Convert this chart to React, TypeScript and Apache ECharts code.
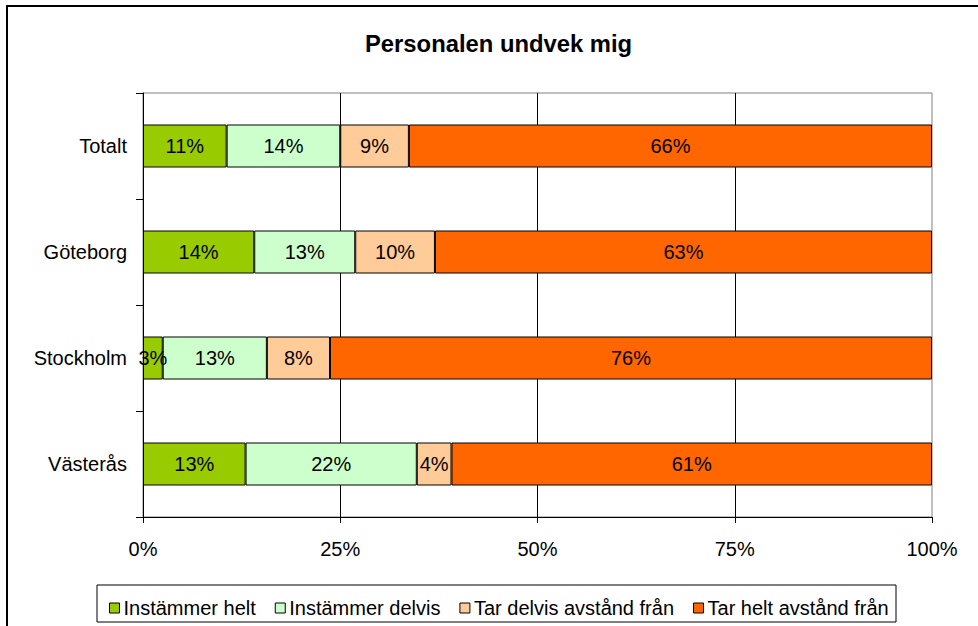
import React, { useEffect, useRef } from "react";
import * as echarts from "echarts";

const categories = ["Totalt", "Göteborg", "Stockholm", "Västerås"];
const seriesNames = ["Instämmer helt", "Instämmer delvis", "Tar delvis avstånd från", "Tar helt avstånd från"];
const instammerHelt = [10.6, 14.1, 2.5, 13.0];
const instammerDelvis = [14.4, 12.8, 13.2, 21.7];
const tarDelvis = [8.7, 10.1, 8.0, 4.4];
const tarHelt = [66.3, 63.0, 76.3, 60.9];
const xTicks = [0, 25, 50, 75, 100];
const colors = ["#99CC00", "#CCFFCC", "#FFCC99", "#FF6600"];

const FONT = "'Liberation Sans', Arial, sans-serif";

export default function App() {
  const ref = useRef<HTMLDivElement>(null);
  useEffect(() => {
    if (!ref.current) return;
    const chart = echarts.init(ref.current, undefined, { renderer: "svg" });
    const data = [instammerHelt, instammerDelvis, tarDelvis, tarHelt];
    chart.setOption({
      animation: false,
      backgroundColor: "#fff",
      textStyle: { fontFamily: FONT },
      graphic: [
        {
          type: "rect",
          shape: { x: 7, y: 6, width: 990, height: 640 },
          style: { fill: "none", stroke: "#000", lineWidth: 2 },
          z: 100,
        },
        {
          type: "rect",
          shape: { x: 97, y: 585, width: 799, height: 37 },
          style: { fill: "#fff", stroke: "#000", lineWidth: 1 },
          z: 0,
        },
        {
          type: "text",
          left: 365,
          top: 31,
          style: { text: "Personalen undvek mig", font: `bold 23.8px ${FONT}`, fill: "#000" },
        },
      ],
      legend: {
        data: seriesNames,
        left: 104,
        top: 593,
        itemWidth: 10,
        itemHeight: 10,
        itemGap: 19,
        icon: "rect",
        textStyle: { fontSize: 20, color: "#000", fontFamily: FONT, padding: [0, 0, 0, -1] },
        itemStyle: { borderColor: "#000", borderWidth: 1 },
        z: 10,
      },
      grid: {
        left: 143,
        right: 46,
        top: 93,
        bottom: 109,
        show: true,
        borderColor: "#808080",
        borderWidth: 1,
        backgroundColor: "#fff",
      },
      xAxis: {
        type: "value",
        min: 0,
        max: 100,
        interval: 25,
        axisLine: { show: true, lineStyle: { color: "#000", width: 1 } },
        axisTick: { show: true, length: 6, lineStyle: { color: "#000" } },
        axisLabel: {
          formatter: (v: number) => (xTicks.includes(v) ? `${v}%` : ""),
          fontSize: 20,
          color: "#000",
          margin: 22,
          fontFamily: FONT,
        },
        splitLine: { show: true, showMaxLine: false, showMinLine: false, lineStyle: { color: "#000", width: 1 } },
      },
      yAxis: {
        type: "category",
        data: categories,
        inverse: true,
        axisLine: { show: true, lineStyle: { color: "#000", width: 1 } },
        axisTick: { show: true, length: 7, lineStyle: { color: "#000" } },
        axisLabel: { fontSize: 20, color: "#000", margin: 16, fontFamily: FONT },
        splitLine: { show: false },
      },
      series: seriesNames.map((name, i) => ({
        name,
        type: "bar",
        stack: "total",
        barWidth: 43,
        data: data[i],
        itemStyle: { color: colors[i], borderColor: "#000", borderWidth: 1 },
        label: {
          show: true,
          position: "inside",
          formatter: (p: any) => `${Math.round(p.value)}%`,
          fontSize: 20,
          color: "#000",
          fontFamily: FONT,
        },
      })),
    });
    return () => chart.dispose();
  }, []);
  return (
    <div
      ref={ref}
      style={{ position: "absolute", left: 0, top: 0, width: 978, height: 626 }}
    />
  );
}
